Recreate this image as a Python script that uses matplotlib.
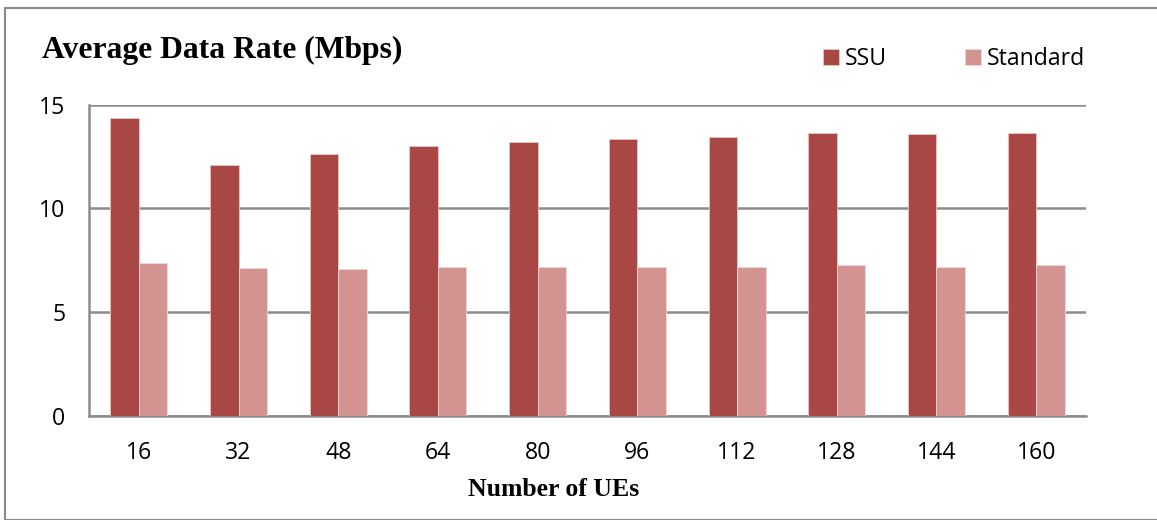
import numpy as np
import matplotlib
matplotlib.use("Agg")
import matplotlib.pyplot as plt
from matplotlib.patches import Rectangle

# Average data rate per number of UEs
num_ues = ["16", "32", "48", "64", "80", "96", "112", "128", "144", "160"]
ssu_rate = [14.36, 12.11, 12.63, 13.01, 13.22, 13.37, 13.43, 13.62, 13.59, 13.65]
standard_rate = [7.39, 7.12, 7.08, 7.17, 7.17, 7.17, 7.17, 7.26, 7.18, 7.26]
y_ticks = [0, 5, 10, 15]

ssu_color = "#A94745"
std_color = "#D39391"
grid_color = "#8C8C8C"

W, H = 1157, 520
fig = plt.figure(figsize=(W / 100, H / 100), dpi=100)

def fx(px):
    return px / W

def fy(py):
    return 1 - py / H

# outer chart frame
fig.patches.append(Rectangle((fx(5), 0), 1.2, 1 - 8 / H, transform=fig.transFigure,
                             fill=False, edgecolor="#8A8A8A", linewidth=1.5))

left, right, top, bottom = 89, 1086, 104.7, 416
ax = fig.add_axes([fx(left), fy(bottom), (right - left) / W, (bottom - top) / H])

x = np.arange(len(num_ues))
bw = 0.286
ax.bar(x - bw / 2, ssu_rate, width=bw, color=ssu_color, edgecolor="#E8C8C8",
       linewidth=0.6, label="SSU", zorder=3)
ax.bar(x + bw / 2, standard_rate, width=bw, color=std_color, edgecolor="#F0D8D8",
       linewidth=0.6, label="Standard", zorder=3)

ax.set_xlim(-0.5, len(num_ues) - 0.5)
ax.set_ylim(0, 15)
ax.set_yticks(y_ticks)
ax.set_xticks(x)
ax.set_xticklabels(num_ues)

ax.yaxis.grid(True, color=grid_color, linewidth=1.8, zorder=0)
ax.set_axisbelow(True)
for side in ["top", "right"]:
    ax.spines[side].set_visible(False)
for side in ["left", "bottom"]:
    ax.spines[side].set_color(grid_color)
    ax.spines[side].set_linewidth(1.8)
ax.tick_params(axis="both", length=0, labelsize=16.6, colors="#000000")
ax.tick_params(axis="y", pad=17.0)
ax.tick_params(axis="x", pad=18.0)
for lbl in ax.get_xticklabels() + ax.get_yticklabels():
    lbl.set_fontfamily(["Open Sans", "DejaVu Sans"])

fig.text(fx(554), fy(496), "Number of UEs", fontfamily="Liberation Serif",
         fontweight="bold", fontsize=18.5, ha="center", va="baseline")

fig.text(fx(42.5), fy(58.3), "Average Data Rate (Mbps)", fontfamily="Liberation Serif",
         fontweight="bold", fontsize=22.8, va="baseline", ha="left")

fig.legend(loc="center left", bbox_to_anchor=(fx(822.7), fy(58.8)), ncol=2,
           frameon=False, borderpad=0, borderaxespad=0,
           handlelength=0.7, handleheight=0.7,
           columnspacing=3.4, handletextpad=0.25,
           prop={"family": "Open Sans", "size": 16.6})

fig.savefig("out.png", dpi=100)
